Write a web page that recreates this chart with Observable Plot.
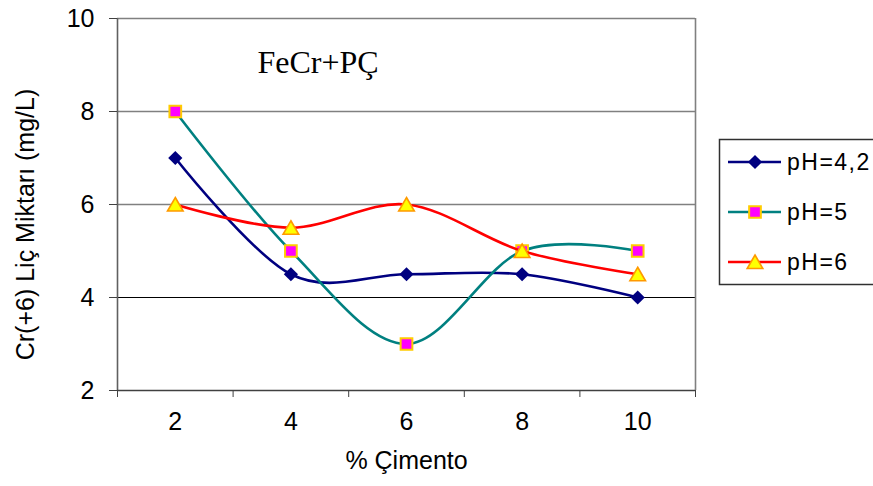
<!DOCTYPE html>
<html><head><meta charset="utf-8">
<script src="https://cdn.jsdelivr.net/npm/d3@7"></script>
<script src="https://cdn.jsdelivr.net/npm/@observablehq/plot@0.6"></script>
<style>
body{margin:0;background:#fff;}
#wrap{position:relative;width:873px;height:486px;overflow:hidden;}
#wrap svg{display:block;}
#legend{position:absolute;left:0;top:0;pointer-events:none;}
</style>
</head><body><div id="wrap"></div>
<script>
// ---- data ----
const cement = [2, 4, 6, 8, 10];
const ph42 = [7, 4.5, 4.5, 4.5, 4];
const ph5 = [8, 5, 3, 5, 5];
const ph6 = [6, 5.5, 6, 5, 4.5];
const seriesNames = ["pH=4,2", "pH=5", "pH=6"];
const yTicks = [2, 4, 6, 8, 10];
const xBoundaries = [1, 3, 5, 7, 9, 11];
const titleText = "FeCr+PÇ";
const xTitle = "% Çimento";
const yTitle = "Cr(+6) Liç Miktarı (mg/L)";

const styles = [
  {line: "#000080", symbol: "diamond2", fill: "#000080", stroke: "none", sw: 0, r: 6.4, dy: 0},
  {line: "#008080", symbol: "square", fill: "#FF00FF", stroke: "#FFCC00", sw: 2, r: 6.6, dy: 0},
  {line: "#FF0000", symbol: "triangle", fill: "#FFFF00", stroke: "#FF9900", sw: 1.6, r: 5.8, dy: 2}
];
const seriesValues = [ph42, ph5, ph6];
const tables = seriesValues.map((vals, k) => cement.map((c, i) => ({x: c, y: vals[i], s: seriesNames[k]})));

const sans = "'Liberation Sans', Arial, sans-serif";
const marks = [
  Plot.ruleY([6, 8, 10], {stroke: "#808080", strokeWidth: 1.6}),
  Plot.ruleY([4], {stroke: "#000000", strokeWidth: 1}),
  Plot.ruleX([11], {stroke: "#808080", strokeWidth: 1.6}),
  Plot.ruleX([1], {stroke: "#606060", strokeWidth: 1.6}),
  Plot.ruleY([2], {stroke: "#404040", strokeWidth: 1.6}),
  Plot.axisY({ticks: yTicks, tickSize: 8, tickPadding: 15, fontSize: 25, tickFormat: d => String(d), label: null, stroke: "#404040", fill: "#000"}),
  Plot.axisX({ticks: xBoundaries, tickSize: 7, tickFormat: () => "", label: null, stroke: "#404040"}),
  Plot.axisX({ticks: cement, tickSize: 0, tickPadding: 22, fontSize: 25, tickFormat: d => String(d), label: null, fill: "#000"}),
  Plot.text([xTitle], {frameAnchor: "bottom", dy: 78, fontSize: 25, fill: "#000"}),
  Plot.text([yTitle], {frameAnchor: "left", textAnchor: "middle", rotate: -90, dx: -92, dy: 20, fontSize: 25, letterSpacing: "1px", fill: "#000"}),
  Plot.text([titleText], {frameAnchor: "top-left", textAnchor: "start", lineAnchor: "top", dx: 140, dy: 32, fontSize: 32, fontFamily: "'Liberation Serif', 'Times New Roman', serif", fill: "#000"})
];
tables.forEach((t, k) => {
  const st = styles[k];
  marks.push(Plot.line(t, {x: "x", y: "y", stroke: st.line, strokeWidth: 2.6, curve: "cardinal"}));
  marks.push(Plot.dot(t, {x: "x", y: "y", symbol: () => st.symbol, r: st.r, fill: st.fill, stroke: st.stroke, strokeWidth: st.sw, dy: st.dy}));
});

const chart = Plot.plot({
  width: 873, height: 486,
  marginLeft: 117, marginRight: 178, marginTop: 18, marginBottom: 96,
  style: {fontFamily: sans, background: "white", color: "#000"},
  x: {domain: [1, 11]},
  y: {domain: [2, 10]},
  symbol: {type: "identity"},
  marks
});
document.getElementById("wrap").appendChild(chart);

// ---- legend ----
const lg = d3.select("#wrap").append("svg").attr("id", "legend").attr("width", 873).attr("height", 486);
lg.append("rect").attr("x", 719.5).attr("y", 139.5).attr("width", 200).attr("height", 145)
  .attr("fill", "white").attr("stroke", "#303030").attr("stroke-width", 1.5);
const symMap = {diamond2: d3.symbolDiamond2, square: d3.symbolSquare, triangle: d3.symbolTriangle};
const rowY = [162, 212, 262];
seriesNames.forEach((name, k) => {
  const st = styles[k];
  const y = rowY[k];
  lg.append("line").attr("x1", 728).attr("x2", 781).attr("y1", y).attr("y2", y).attr("stroke", st.line).attr("stroke-width", 2.6);
  lg.append("path").attr("d", d3.symbol(symMap[st.symbol], Math.PI * st.r * st.r)())
    .attr("transform", `translate(755,${y + st.dy})`).attr("fill", st.fill).attr("stroke", st.stroke).attr("stroke-width", st.sw);
  lg.append("text").attr("x", 787).attr("y", y + 8).attr("font-family", sans).attr("font-size", 23)
    .attr("letter-spacing", "1.5px").attr("fill", "#000").text(name);
});
</script>
</body></html>
